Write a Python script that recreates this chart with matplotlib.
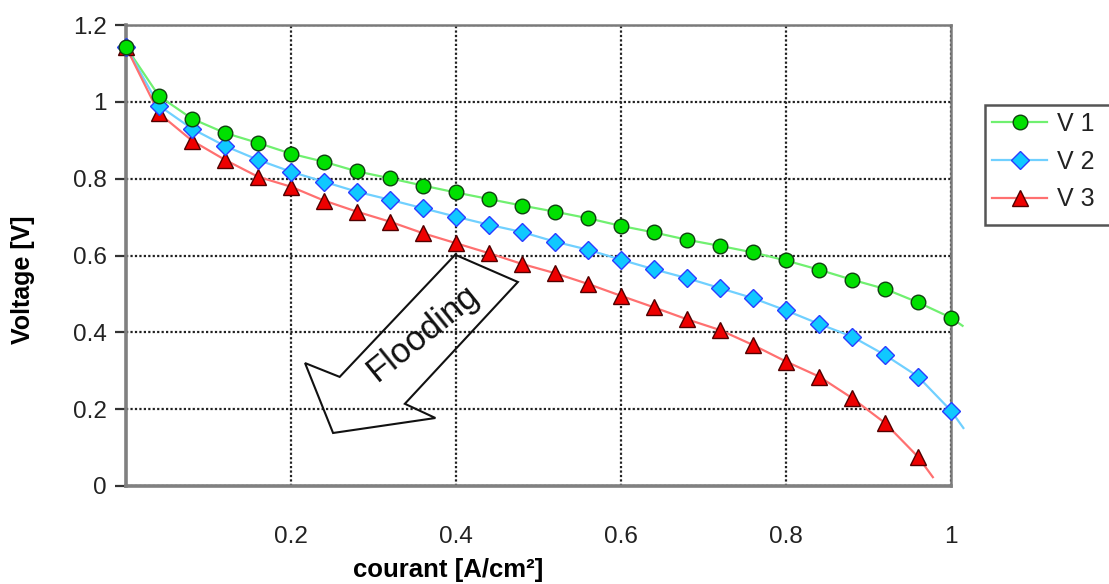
import matplotlib
matplotlib.use("Agg")
import matplotlib.pyplot as plt
from matplotlib.patches import Polygon, Rectangle
from matplotlib.lines import Line2D

plt.rcParams['font.family'] = ['Liberation Sans', 'DejaVu Sans']

# ---- data ----
courant = [0.00, 0.04, 0.08, 0.12, 0.16, 0.20, 0.24, 0.28, 0.32, 0.36,
           0.40, 0.44, 0.48, 0.52, 0.56, 0.60, 0.64, 0.68, 0.72, 0.76,
           0.80, 0.84, 0.88, 0.92, 0.96, 1.00]
v1 = [1.143, 1.015, 0.956, 0.919, 0.893, 0.865, 0.844, 0.819, 0.801, 0.782,
      0.764, 0.747, 0.730, 0.714, 0.697, 0.677, 0.660, 0.641, 0.625, 0.608,
      0.587, 0.563, 0.537, 0.513, 0.478, 0.438]
v2 = [1.143, 0.990, 0.930, 0.885, 0.849, 0.818, 0.792, 0.766, 0.745, 0.723,
      0.701, 0.680, 0.661, 0.636, 0.615, 0.589, 0.564, 0.541, 0.515, 0.489,
      0.457, 0.422, 0.389, 0.341, 0.285, 0.196]
v3 = [1.143, 0.970, 0.899, 0.849, 0.805, 0.779, 0.743, 0.714, 0.688, 0.658,
      0.632, 0.606, 0.578, 0.554, 0.526, 0.495, 0.465, 0.434, 0.406, 0.367,
      0.324, 0.285, 0.229, 0.164, 0.076]
courant_v3 = courant[:len(v3)]
# where each drawn curve ends (beyond its last marker)
tail_x = [1.014, 1.015, 0.978]
tail_y = [0.417, 0.151, 0.023]

series_labels = ['V 1', 'V 2', 'V 3']
xticks = [0.2, 0.4, 0.6, 0.8, 1.0]
xtick_labels = ['0.2', '0.4', '0.6', '0.8', '1']
yticks = [0, 0.2, 0.4, 0.6, 0.8, 1.0, 1.2]
ytick_labels = ['0', '0.2', '0.4', '0.6', '0.8', '1', '1.2']

# Flooding arrow outline (data coords)
arrow_x = [0.399, 0.475, 0.338, 0.375, 0.251, 0.217, 0.259]
arrow_y = [0.602, 0.531, 0.214, 0.177, 0.138, 0.320, 0.284]

# ---- figure ----
fig = plt.figure(figsize=(11.09, 5.84), dpi=100)
ax = fig.add_axes([126/1109, 1-486/584, 825/1109, 461/584])

styles = [
    dict(line='#70f070', marker='o', mfc='#00e000', mec='#104010', ms=10.5),
    dict(line='#70d0ff', marker='D', mfc='#10c8ff', mec='#2a3cff', ms=9),
    dict(line='#ff7070', marker='^', mfc='#ee0000', mec='#500000', ms=11),
]
xs = [courant, courant, courant_v3]
ys = [v1, v2, v3]
handles = []
for i, (x, y, st) in enumerate(zip(xs, ys, styles)):
    ax.plot(list(x) + [tail_x[i]], list(y) + [tail_y[i]], color=st['line'],
            lw=1.6, zorder=3, clip_on=False)
    ax.plot(x, y, linestyle='none', marker=st['marker'], ms=st['ms'],
            mfc=st['mfc'], mec=st['mec'], mew=1.0, zorder=4 + (2 - i) * 0.1,
            clip_on=False)
    handles.append(Line2D([], [], color=st['line'], lw=1.6,
                          marker=st['marker'], ms=st['ms'], mfc=st['mfc'],
                          mec=st['mec'], mew=1.0))

ax.set_xlim(0, 1.0)
ax.set_ylim(0, 1.2)
ax.set_xticks(xticks)
ax.set_xticklabels(xtick_labels)
ax.set_yticks(yticks)
ax.set_yticklabels(ytick_labels)

ax.grid(True, color='#222222', linestyle=(0, (1, 1)), linewidth=1.6, zorder=1)
ax.set_axisbelow(True)

for side in ['left', 'bottom']:
    ax.spines[side].set_color('#808080')
    ax.spines[side].set_linewidth(2.6)
for side in ['top', 'right']:
    ax.spines[side].set_color('#7a7a7a')
    ax.spines[side].set_linewidth(1.8)

ax.tick_params(axis='x', length=0, pad=29, labelsize=17.5, colors='#222222')
ax.tick_params(axis='y', length=8, width=1.6, color='#333333', pad=6,
               labelsize=17.5, labelcolor='#222222')

ax.set_xlabel('courant [A/cm²]', fontsize=18.5, fontweight='bold')
ax.xaxis.label.set_va('center')
ax.xaxis.set_label_coords(0.39, -0.182)
ax.set_ylabel('Voltage [V]', fontsize=18, fontweight='bold')
ax.yaxis.label.set_va('center')
ax.yaxis.set_label_coords(-0.125, 0.447)

# Flooding arrow
poly = Polygon(list(zip(arrow_x, arrow_y)), closed=True, fill=False,
               edgecolor='#111111', lw=1.5, zorder=5)
ax.add_patch(poly)
ax.text(0.359, 0.398, 'Flooding', rotation=39, fontsize=25,
        ha='center', va='center', rotation_mode='anchor', color='#111111',
        zorder=6)

# legend
fig.add_artist(Rectangle((985/1109, 1-225/584), 140/1109, 120/584,
                         transform=fig.transFigure, fill=True, facecolor='white',
                         edgecolor='#555555', lw=1.8, clip_on=False))
leg = fig.legend(handles, series_labels, loc='upper left',
                 bbox_to_anchor=(987/1109, 1-107/584), frameon=False,
                 fontsize=18, handlelength=2.2, handletextpad=0.4,
                 labelspacing=0.55, borderpad=0.2, borderaxespad=0)
for t in leg.get_texts():
    t.set_color('#222222')

fig.savefig('out.png', dpi=100)
